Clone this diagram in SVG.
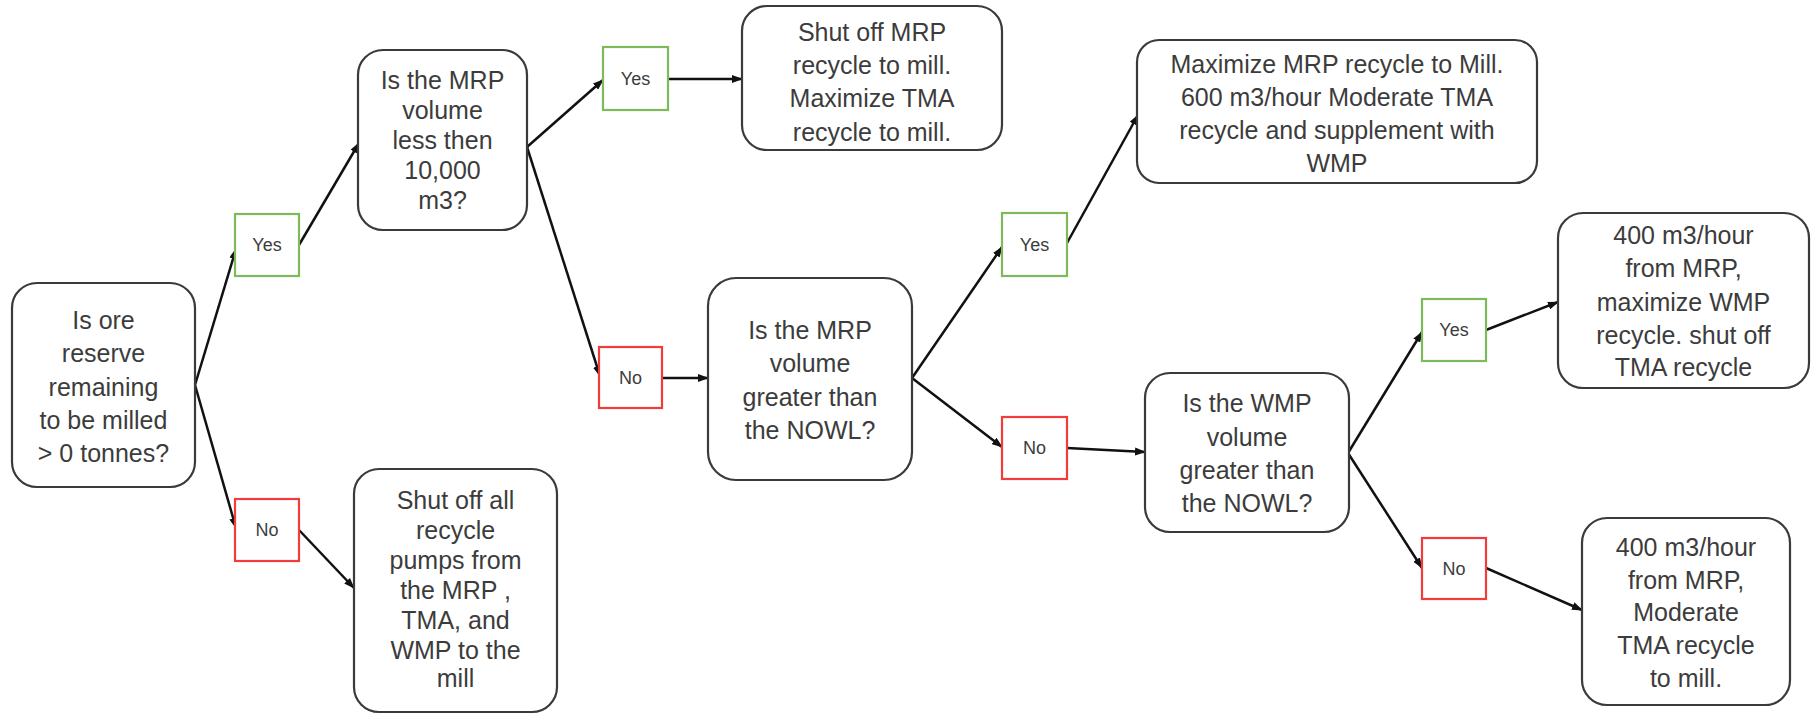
<svg xmlns="http://www.w3.org/2000/svg" width="1811" height="715" viewBox="0 0 1811 715">
<style>
.node{fill:#fff;stroke:#3a3a3a;stroke-width:2.2}
.yes{fill:#fff;stroke:#7dbb5a;stroke-width:2.2}
.no{fill:#fff;stroke:#f23c3c;stroke-width:2.2}
.t{font-family:"Liberation Sans",Arial,sans-serif;font-size:25px;fill:#3c3c3c;text-anchor:middle}
.s{font-family:"Liberation Sans",Arial,sans-serif;font-size:18px;fill:#3c3c3c;text-anchor:middle}
.c{stroke:#111;stroke-width:2.5;fill:none;marker-end:url(#ah)}
</style>
<defs>
<marker id="ah" markerUnits="userSpaceOnUse" markerWidth="11" markerHeight="8" refX="10" refY="4" orient="auto"><path d="M0,0 L11,4 L0,8 z" fill="#111"/></marker>
</defs>
<rect width="1811" height="715" fill="#fff"/>
<g id="connectors">
<line class="c" x1="195" y1="385" x2="236" y2="249"/>
<line class="c" x1="195" y1="385" x2="236" y2="528"/>
<line class="c" x1="299" y1="245" x2="359" y2="143"/>
<line class="c" x1="299" y1="530" x2="354" y2="588"/>
<line class="c" x1="527" y1="147" x2="603" y2="80"/>
<line class="c" x1="527" y1="147" x2="600" y2="376"/>
<line class="c" x1="668" y1="79" x2="742" y2="79"/>
<line class="c" x1="662" y1="378" x2="708" y2="378"/>
<line class="c" x1="912" y1="378" x2="1002" y2="247"/>
<line class="c" x1="912" y1="378" x2="1002" y2="447"/>
<line class="c" x1="1067" y1="243" x2="1138" y2="115"/>
<line class="c" x1="1067" y1="448" x2="1145" y2="452"/>
<line class="c" x1="1348" y1="453" x2="1422" y2="332"/>
<line class="c" x1="1348" y1="453" x2="1422" y2="568"/>
<line class="c" x1="1486" y1="330" x2="1558" y2="302"/>
<line class="c" x1="1486" y1="568" x2="1582" y2="610"/>
</g>
<g id="n1">
<rect class="node" x="12" y="283" width="183" height="204" rx="25"/>
<text class="t"><tspan x="103.5" y="329">Is ore</tspan><tspan x="103.5" y="362">reserve</tspan><tspan x="103.5" y="396">remaining</tspan><tspan x="103.5" y="429">to be milled</tspan><tspan x="103.5" y="462">&gt; 0 tonnes?</tspan></text>
</g>
<g id="yes1"><rect class="yes" x="235" y="214" width="64" height="62"/><text class="s" x="267" y="251">Yes</text></g>
<g id="no1"><rect class="no" x="235" y="499" width="64" height="62"/><text class="s" x="267" y="536">No</text></g>
<g id="n2">
<rect class="node" x="358" y="50" width="169" height="180" rx="25"/>
<text class="t"><tspan x="442.5" y="89">Is the MRP</tspan><tspan x="442.5" y="119">volume</tspan><tspan x="442.5" y="149">less then</tspan><tspan x="442.5" y="179">10,000</tspan><tspan x="442.5" y="209">m3?</tspan></text>
</g>
<g id="n9">
<rect class="node" x="354" y="469" width="203" height="243" rx="25"/>
<text class="t"><tspan x="455.5" y="509">Shut off all</tspan><tspan x="455.5" y="539">recycle</tspan><tspan x="455.5" y="569">pumps from</tspan><tspan x="455.5" y="599">the MRP ,</tspan><tspan x="455.5" y="629">TMA, and</tspan><tspan x="455.5" y="659">WMP to the</tspan><tspan x="455.5" y="687">mill</tspan></text>
</g>
<g id="yes2"><rect class="yes" x="603" y="47" width="65" height="63"/><text class="s" x="635.5" y="85">Yes</text></g>
<g id="no2"><rect class="no" x="599" y="347" width="63" height="61"/><text class="s" x="630.5" y="384">No</text></g>
<g id="n3">
<rect class="node" x="742" y="6" width="260" height="144" rx="25"/>
<text class="t"><tspan x="872" y="41">Shut off MRP</tspan><tspan x="872" y="74">recycle to mill.</tspan><tspan x="872" y="107">Maximize TMA</tspan><tspan x="872" y="141">recycle to mill.</tspan></text>
</g>
<g id="n4">
<rect class="node" x="708" y="278" width="204" height="202" rx="28"/>
<text class="t"><tspan x="810" y="339">Is the MRP</tspan><tspan x="810" y="372">volume</tspan><tspan x="810" y="406">greater than</tspan><tspan x="810" y="439">the NOWL?</tspan></text>
</g>
<g id="yes3"><rect class="yes" x="1002" y="213" width="65" height="63"/><text class="s" x="1034.5" y="251">Yes</text></g>
<g id="no3"><rect class="no" x="1002" y="417" width="65" height="62"/><text class="s" x="1034.5" y="454">No</text></g>
<g id="n6">
<rect class="node" x="1137" y="40" width="400" height="143" rx="22"/>
<text class="t"><tspan x="1337" y="73">Maximize MRP recycle to Mill.</tspan><tspan x="1337" y="106">600 m3/hour Moderate TMA</tspan><tspan x="1337" y="139">recycle and supplement with</tspan><tspan x="1337" y="172">WMP</tspan></text>
</g>
<g id="n5">
<rect class="node" x="1145" y="373" width="204" height="159" rx="25"/>
<text class="t"><tspan x="1247" y="412">Is the WMP</tspan><tspan x="1247" y="446">volume</tspan><tspan x="1247" y="479">greater than</tspan><tspan x="1247" y="512">the NOWL?</tspan></text>
</g>
<g id="yes4"><rect class="yes" x="1422" y="299" width="64" height="62"/><text class="s" x="1454" y="336">Yes</text></g>
<g id="no4"><rect class="no" x="1422" y="538" width="64" height="61"/><text class="s" x="1454" y="575">No</text></g>
<g id="n7">
<rect class="node" x="1558" y="213" width="251" height="175" rx="25"/>
<text class="t"><tspan x="1683.5" y="244">400 m3/hour</tspan><tspan x="1683.5" y="277">from MRP,</tspan><tspan x="1683.5" y="311">maximize  WMP</tspan><tspan x="1683.5" y="344">recycle. shut off</tspan><tspan x="1683.5" y="376">TMA recycle</tspan></text>
</g>
<g id="n8">
<rect class="node" x="1582" y="518" width="208" height="187" rx="25"/>
<text class="t"><tspan x="1686" y="556">400 m3/hour</tspan><tspan x="1686" y="589">from MRP,</tspan><tspan x="1686" y="621">Moderate</tspan><tspan x="1686" y="654">TMA recycle</tspan><tspan x="1686" y="687">to mill.</tspan></text>
</g>
</svg>
